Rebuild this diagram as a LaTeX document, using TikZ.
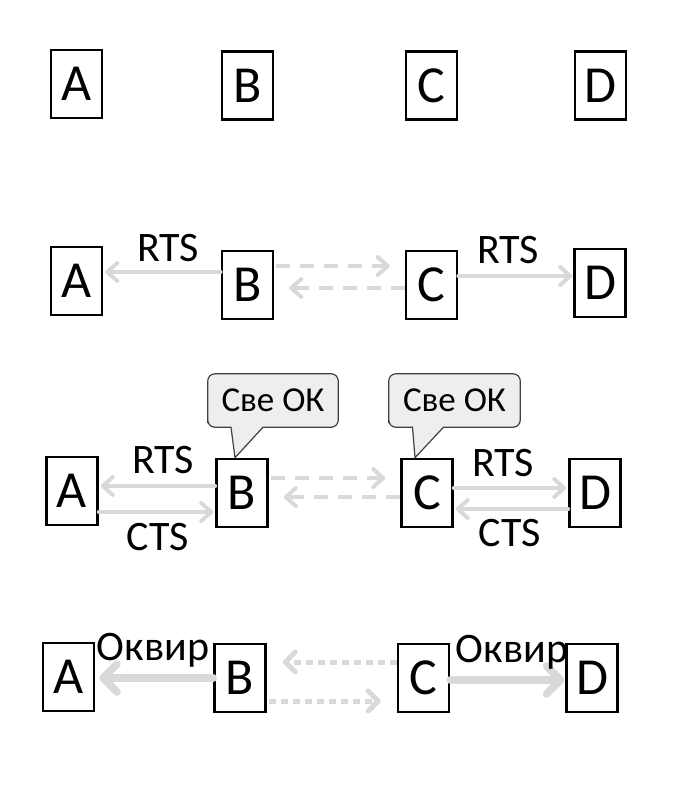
\documentclass[tikz,border=0pt]{standalone}
\usepackage{fontspec}
\setmainfont{Carlito}
\usetikzlibrary{arrows.meta,calc}
\definecolor{lg}{HTML}{D9D9D9}
\definecolor{cfill}{HTML}{EEEEEE}
\definecolor{cline}{HTML}{404040}
\tikzset{
  box/.style={draw,line width=2.6pt,minimum width=51pt,minimum height=68pt,inner sep=0pt,font=\fontsize{52}{52}\selectfont},
  lbl/.style={inner sep=0pt,font=\fontsize{42}{42}\selectfont},
  frm/.style={inner sep=0pt,font=\fontsize{42}{42}\selectfont},
  oktext/.style={inner sep=0pt,minimum width=130pt,minimum height=53pt,font=\fontsize{35}{35}\selectfont},
  callout/.style={draw=cline,fill=cfill,line width=1.2pt},
  garrow/.style={draw=lg,line width=4pt,line cap=round,-{Straight Barb[length=10pt,width=18pt,round]}},
  darrow/.style={garrow,dash pattern=on 14pt off 10pt,line cap=butt},
  tarrow/.style={draw=lg,line width=7.5pt,line cap=round,-{Straight Barb[length=14pt,width=28pt,round]}},
  parrow/.style={draw=lg,line width=5pt,dash pattern=on 7pt off 5pt,-{Straight Barb[length=10pt,width=20pt,round]}}
}
\begin{document}
\begin{tikzpicture}[x=1pt,y=-1pt]
\useasboundingbox (0,0) rectangle (692,802);
% row 1
\node[box] (A1) at (76.5,84) {A};
\node[box] (B1) at (247.5,85.5) {B};
\node[box] (C1) at (431.5,85.5) {C};
\node[box] (D1) at (600.5,85.5) {D};
% row 2
\node[box] (A2) at (76.5,281) {A};
\node[box] (B2) at (247.5,285) {B};
\node[box] (C2) at (431.5,285) {C};
\node[box] (D2) at (600,283) {D};
\coordinate (b2a) at ([yshift=13pt]B2.west);
\draw[garrow,shorten >=2pt] (b2a) -- (b2a -| A2.east);
\coordinate (c2d) at ([yshift=9pt]C2.east);
\draw[garrow,shorten >=1pt] (c2d) -- (c2d -| D2.west);
\coordinate (b2c) at ([yshift=19pt]B2.east);
\draw[darrow,shorten <=2pt,shorten >=15pt] (b2c) -- (b2c -| C2.west);
\coordinate (c2b) at ([yshift=-3pt]C2.west);
\draw[darrow,shorten >=15pt] (c2b) -- (c2b -| B2.east);
\node[lbl] (r2a) at (168,248) {RTS};
\node[lbl] (r2b) at (508,250) {RTS};
% row 3
\node[box] (A3) at (72,491) {A};
\node[box] (B3) at (242,493) {B};
\node[box] (C3) at (427,493) {C};
\node[box] (D3) at (595,493) {D};
\coordinate (b3a) at ([yshift=7pt]B3.west);
\draw[garrow,shorten >=2pt] (b3a) -- (b3a -| A3.east);
\coordinate (a3b) at ([yshift=-21pt]A3.east);
\draw[garrow,shorten >=2pt] (a3b) -- (a3b -| B3.west);
\coordinate (c3d) at ([yshift=5pt]C3.east);
\draw[garrow,shorten >=2pt] (c3d) -- (c3d -| D3.west);
\coordinate (d3c) at ([yshift=-16pt]D3.west);
\draw[garrow,shorten >=2pt] (d3c) -- (d3c -| C3.east);
\coordinate (b3c) at ([yshift=15pt]B3.east);
\draw[darrow,shorten <=2pt,shorten >=15pt] (b3c) -- (b3c -| C3.west);
\coordinate (c3b) at ([yshift=-4pt]C3.west);
\draw[darrow,shorten >=15pt] (c3b) -- (c3b -| B3.east);
\node[lbl] (r3a) at (163,460) {RTS};
\node[lbl] (c3a) at (158,537) {CTS};
\node[lbl] (r3b) at (503,463) {RTS};
\node[lbl] (c3l) at (510,533) {CTS};
% callouts
\node[oktext] (ok1) at (273,400.5) {};
\coordinate (t1) at ([xshift=-7pt]B3.north);
\draw[callout] (ok1.south west) [rounded corners=7pt] -- (ok1.north west) -- (ok1.north east) -- (ok1.south east) [sharp corners] -- ([xshift=-10pt]ok1.south) -- (t1) -- ([xshift=-42pt]ok1.south) [rounded corners=7pt] -- (ok1.south west) -- cycle;
\node[oktext] at (ok1) {Све ОК};
\node[oktext,minimum width=131pt] (ok2) at (454.5,400.5) {};
\coordinate (t2) at ([xshift=-12pt]C3.north);
\draw[callout] (ok2.south west) [rounded corners=7pt] -- (ok2.north west) -- (ok2.north east) -- (ok2.south east) [sharp corners] -- ([xshift=-11pt]ok2.south) -- (t2) -- ([xshift=-42pt]ok2.south) [rounded corners=7pt] -- (ok2.south west) -- cycle;
\node[oktext,minimum width=131pt] at (ok2) {Све ОК};
% row 4
\node[box] (A4) at (68.5,677) {A};
\node[box] (B4) at (240,678) {B};
\node[box] (C4) at (423.5,678) {C};
\node[box] (D4) at (592,678) {D};
\coordinate (b4a) at (B4.west);
\draw[tarrow,shorten >=4pt] (b4a) -- (b4a -| A4.east);
\coordinate (c4d) at ([yshift=-2pt]C4.east);
\draw[tarrow,shorten >=1pt] (c4d) -- (c4d -| D4.west);
\coordinate (c4b) at ([yshift=16pt]C4.west);
\draw[parrow,shorten >=16pt] (c4b) -- (c4b -| B4.east);
\coordinate (b4c) at ([yshift=-23pt]B4.east);
\draw[parrow,shorten <=2pt,shorten >=16pt] (b4c) -- (b4c -| C4.west);
\node[frm] (o4a) at (153,650) {Оквир};
\node[frm] (o4b) at (512,652) {Оквир};
\end{tikzpicture}
\end{document}
